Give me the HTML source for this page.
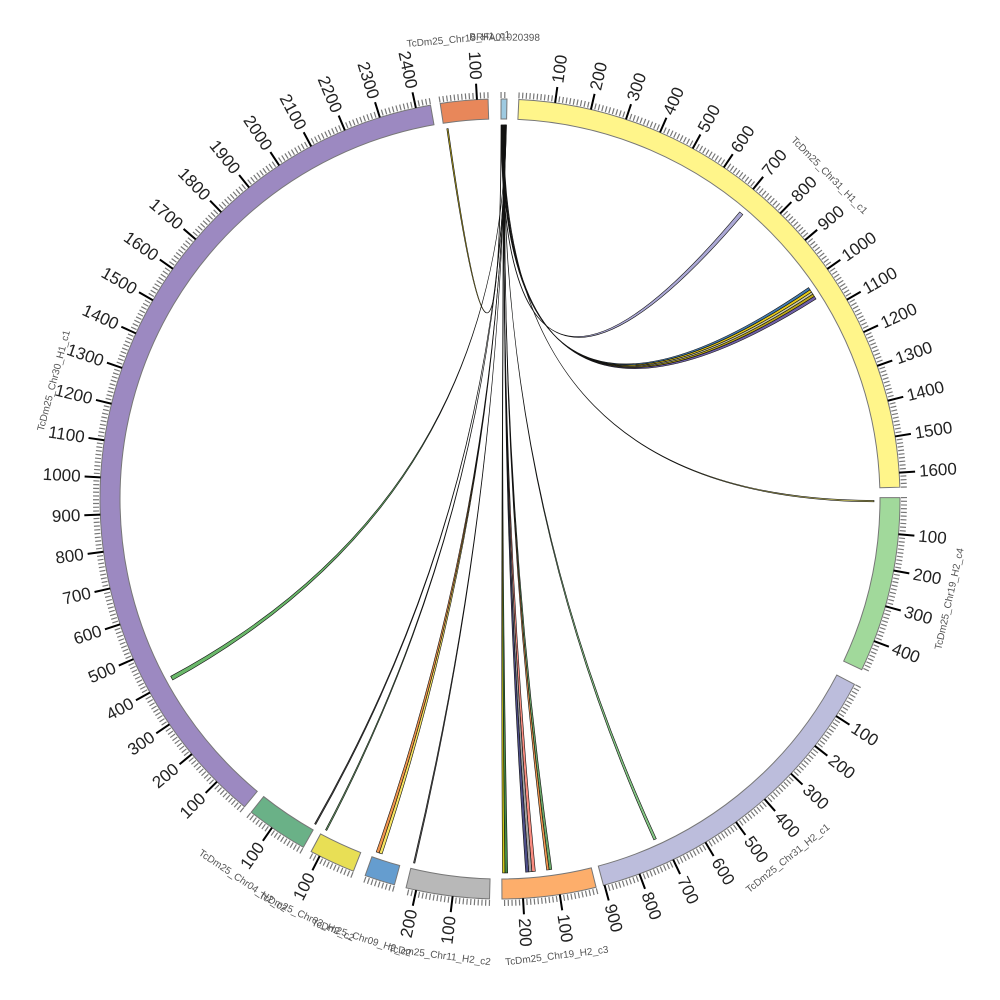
<!DOCTYPE html>
<html><head><meta charset="utf-8"><style>
html,body{margin:0;padding:0;background:#fff;}
svg{display:block;font-family:"Liberation Sans",sans-serif;}
</style></head><body>
<svg id="chart" width="1000" height="1000" viewBox="0 0 1000 1000" xmlns="http://www.w3.org/2000/svg">
<g id="chords"></g>
<g id="segs"></g>
<g id="ticks"></g>
<g id="labels"></g>
</svg>
<script>
// Segment data
const segNames = ["BRFA01020398","TcDm25_Chr31_H1_c1","TcDm25_Chr19_H2_c4","TcDm25_Chr31_H2_c1","TcDm25_Chr19_H2_c3","TcDm25_Chr11_H2_c2","TcDm25_Chr09_H2_c2","TcDm25_Chr03_H2_c2","TcDm25_Chr04_H2_c2","TcDm25_Chr30_H1_c1","TcDm25_Chr19_H1_c1"];
const segLengths = [16,1640,485,903,257,228,83,126,170,2440,130];
const segStartDeg = [0.15,2.7,89.8,117.6,166.1,181.5,195.3,201.5,209.45,219.7,351.4];
const segDegPerUnit = [0.053,0.0522,0.0525,0.0525,0.053,0.053,0.053,0.053,0.053,0.0534,0.053];
const segColors = ["#9ecae1","#fff58a","#a1d99b","#bcbddc","#fdae6b","#b8b8b8","#659dcf","#e8df55","#6ab187","#9c89c1","#e8875a"];

// Chord data (source always segment 0)
const chordSrcStart = [0,1,2,3,4,5,6,7,8,9,10,10.5,11,11.5,12,12.5,13,13.5,14,14.5,15,15.5];
const chordSrcEnd   = [1,2,3,4,5,6,7,8,9,10,10.5,11,11.5,12,12.5,13,13.5,14,14.5,15,15.5,16];
const chordTgtSeg   = [10,1,1,1,1,1,1,2,3,4,4,4,4,4,4,4,5,6,6,7,8,9];
const chordTgtStart = [8,712,1013,1021,1029,1036,1044,8,718,240,160,170,179,112,120,248,220,58,67,115,1,400];
const chordTgtEnd   = [12,724,1021,1029,1036,1044,1053,12,726,248,170,179,188,120,127,255,224,67,76,119,5,412];
const chordColors   = ["#b5a200","#a29ed0","#2f6ea8","#e8c800","#c8c8a0","#b8a000","#6050a0","#d8d060","#78c078","#2e7d32","#fa8072","#9a9a9a","#3a3a7a","#5aa05a","#f08a3c","#c8c000","#444444","#f5e050","#f08a3c","#5a9a5a","#333333","#5ab05a"];

const CX=500, CY=499, RIN=380, ROUT=400, RCH=374;
const NS="http://www.w3.org/2000/svg";
function ang(si,u){return segStartDeg[si]+u*segDegPerUnit[si];}
function pt(a,r){const t=a*Math.PI/180;return [CX+r*Math.sin(t),CY-r*Math.cos(t)];}
function mk(tag,attrs,parent){const e=document.createElementNS(NS,tag);for(const k in attrs)e.setAttribute(k,attrs[k]);parent.appendChild(e);return e;}
const f=n=>n.toFixed(2);

// segments
const gS=document.getElementById('segs');
segNames.forEach((nm,i)=>{
  const a0=ang(i,0),a1=ang(i,segLengths[i]);
  const p0=pt(a0,ROUT),p1=pt(a1,ROUT),p2=pt(a1,RIN),p3=pt(a0,RIN);
  const lg=(a1-a0)>180?1:0;
  const d=`M${f(p0[0])},${f(p0[1])} A${ROUT},${ROUT} 0 ${lg} 1 ${f(p1[0])},${f(p1[1])} L${f(p2[0])},${f(p2[1])} A${RIN},${RIN} 0 ${lg} 0 ${f(p3[0])},${f(p3[1])} Z`;
  const e=mk('path',{d:d,fill:segColors[i],stroke:'#777','stroke-width':1},gS);
  
  
});

// ticks
const gT=document.getElementById('ticks');
let minor='',major='';
segNames.forEach((nm,i)=>{
  for(let u=0;u<=segLengths[i];u+=10){
    const a=ang(i,u);
    if(u%100===0&&u>0){
      const q0=pt(a,ROUT),q1=pt(a,416);
      major+=`M${f(q0[0])},${f(q0[1])}L${f(q1[0])},${f(q1[1])}`;
      const lp=pt(a,420);
      const t=mk('text',{x:f(lp[0]),y:f(lp[1]),'font-size':17,fill:'#222','dominant-baseline':'central'},document.getElementById('labels'));
      if(a<180){t.setAttribute('text-anchor','start');t.setAttribute('transform',`rotate(${f(a-90)} ${f(lp[0])} ${f(lp[1])})`);}
      else{t.setAttribute('text-anchor','end');t.setAttribute('transform',`rotate(${f(a-270)} ${f(lp[0])} ${f(lp[1])})`);}
      t.textContent=String(u);
      
      
    } else {
      const q0=pt(a,ROUT+1),q1=pt(a,407);
      minor+=`M${f(q0[0])},${f(q0[1])}L${f(q1[0])},${f(q1[1])}`;
    }
  }
});
const mi=mk('path',{d:minor,stroke:'#777','stroke-width':1.2,fill:'none'},gT);


const ma=mk('path',{d:major,stroke:'#000','stroke-width':2,fill:'none'},gT);



// segment name labels
segNames.forEach((nm,i)=>{
  const a=(ang(i,0)+ang(i,segLengths[i]))/2;
  const p=pt(a,461);
  const rot=(a<90||a>270)?(a>270?a-360:a):a-180;
  const t=mk('text',{x:f(p[0]),y:f(p[1]),'font-size':10,fill:'#555','text-anchor':'middle','dominant-baseline':'central',transform:`rotate(${f(rot)} ${f(p[0])} ${f(p[1])})`},document.getElementById('labels'));
  t.textContent=nm;
  
  
});

// chords
const gC=document.getElementById('chords');
chordColors.forEach((c,j)=>{
  const s0=ang(0,chordSrcStart[j]),s1=ang(0,chordSrcEnd[j]);
  const ts=chordTgtSeg[j];
  const e0=ang(ts,chordTgtStart[j]),e1=ang(ts,chordTgtEnd[j]);
  const A=pt(s0,RCH),B=pt(s1,RCH),C=pt(e1,RCH),D=pt(e0,RCH);
  const d=`M${f(A[0])},${f(A[1])} A${RCH},${RCH} 0 0 1 ${f(B[0])},${f(B[1])} Q${CX},${CY} ${f(C[0])},${f(C[1])} A${RCH},${RCH} 0 0 0 ${f(D[0])},${f(D[1])} Q${CX},${CY} ${f(A[0])},${f(A[1])} Z`;
  const e=mk('path',{d:d,fill:c,stroke:'#111','stroke-width':0.6,'fill-opacity':0.9},gC);
  
  
});
</script>
</body></html>
